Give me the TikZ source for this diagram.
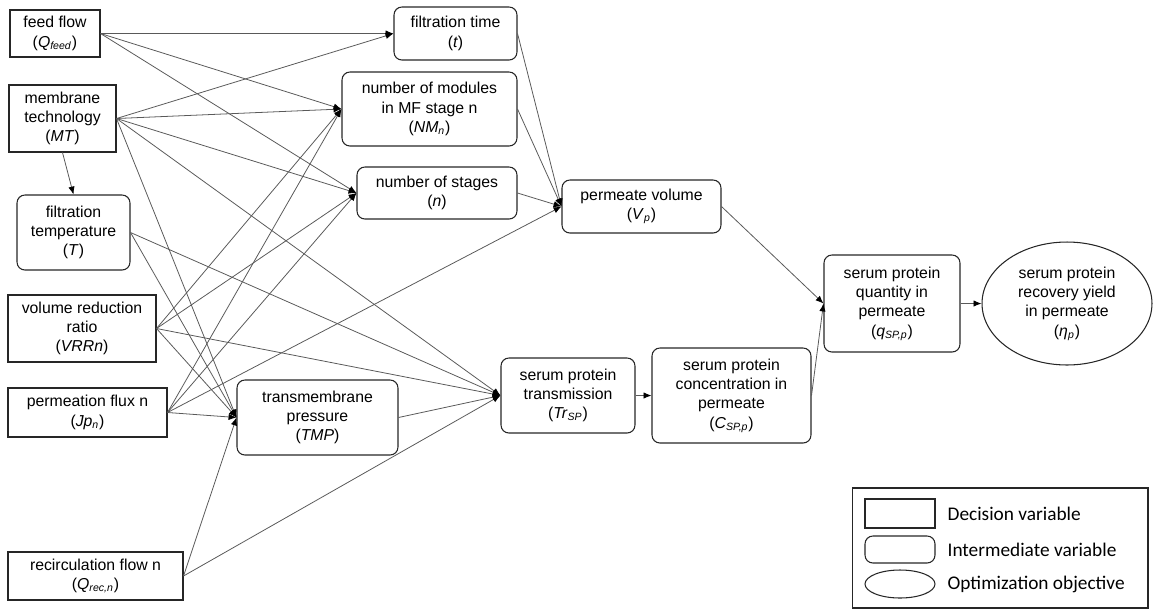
\documentclass[tikz,border=0pt]{standalone}
\usepackage{fontspec}
\setmainfont{Liberation Sans}
\newfontfamily\legendfont{Carlito}
\usepackage{tikz}
\usetikzlibrary{positioning,arrows.meta,shapes.geometric}

\newcommand{\vsub}[2]{\textit{#1}\textsubscript{\textit{#2}}}

\begin{document}
\begin{tikzpicture}[x=0.02cm, y=-0.02cm,
  decbox/.style={draw=black!85, line width=0.6pt, align=center, inner sep=2pt, font=\fontsize{9}{11}\selectfont},
  intbox/.style={decbox, rounded corners=4.5pt},
  objell/.style={decbox, ellipse, inner sep=0pt},
  arr/.style={-{Latex[length=4.5pt, width=3.6pt, color=black]}, draw=black!65, line width=0.45pt},
  node distance=2mm]
\useasboundingbox (0,0) rectangle (1154,610);

% decision variables
\node[decbox, minimum width=1.8cm, minimum height=0.94cm] (feed) at (55,33.5) {feed flow\\(\vsub{Q}{feed})};
\node[decbox, minimum width=2.14cm, minimum height=1.34cm] (mt) at (62.5,118.5) {membrane\\technology\\(\textit{MT})};
\node[decbox, minimum width=2.96cm, minimum height=1.34cm] (vrr) at (82,328.5) {volume reduction\\ratio\\(\textit{VRRn})};
\node[decbox, minimum width=3.18cm, minimum height=0.98cm] (jp) at (87.5,412.5) {permeation flux n\\(\vsub{Jp}{n})};
\node[decbox, minimum width=3.5cm, minimum height=0.96cm] (recirc) at (95.5,576) {recirculation flow n\\(\vsub{Q}{rec,n})};

% intermediate variables
\node[intbox, minimum width=2.26cm, minimum height=1.5cm] (temp) at (73.5,232.5) {filtration\\temperature\\(\textit{T})};
\node[intbox, minimum width=2.46cm, minimum height=1.06cm] (time) at (455.5,33.5) {filtration time\\(\textit{t})};
\node[intbox, minimum width=3.5cm, minimum height=1.48cm] (modules) at (429.5,109) {number of modules\\in MF stage n\\(\vsub{NM}{n})};
\node[intbox, minimum width=3.2cm, minimum height=1.04cm] (stages) at (437,193) {number of stages\\(\textit{n})};
\node[intbox, minimum width=3.18cm, minimum height=1.06cm] (volume) at (641.5,206.5) {permeate volume\\(\vsub{V}{p})};
\node[intbox, minimum width=3.22cm, minimum height=1.5cm] (tmp) at (317.5,417.5) {transmembrane\\pressure\\(\textit{TMP})};
\node[intbox, minimum width=2.68cm, minimum height=1.5cm] (trsp) at (568,395.5) {serum protein\\transmission\\(\vsub{Tr}{SP})};
\node[intbox, minimum width=3.18cm, minimum height=1.9cm] (conc) at (731.5,395.5) {serum protein\\concentration in\\permeate\\(\vsub{C}{SP,p})};
\node[intbox, minimum width=2.72cm, minimum height=1.94cm] (qty) at (892,303.5) {serum protein\\quantity in\\permeate\\(\vsub{q}{SP,p})};

% objective
\node[objell, minimum width=3.4cm, minimum height=2.46cm] (yield) at (1067,303.5) {serum protein\\recovery yield\\in permeate\\(\vsub{η}{p})};

% influences
\draw[arr] (feed.east) -- (time.west);
\draw[arr] (feed.east) -- (modules.west);
\draw[arr] (feed.east) -- (stages.west);
\draw[arr] (mt.east) -- (time.west);
\draw[arr] (mt.east) -- (modules.west);
\draw[arr] (mt.east) -- (stages.west);
\draw[arr] (mt.east) -- (tmp.west);
\draw[arr] (mt.east) -- (trsp.west);
\draw[arr] (mt.south) -- (temp.north);
\draw[arr] (temp.east) -- (tmp.west);
\draw[arr] (temp.east) -- (trsp.west);
\draw[arr] (vrr.east) -- (modules.west);
\draw[arr] (vrr.east) -- (stages.west);
\draw[arr] (vrr.east) -- (tmp.west);
\draw[arr] (vrr.east) -- (trsp.west);
\draw[arr] (jp.east) -- (modules.west);
\draw[arr] (jp.east) -- (stages.west);
\draw[arr] (jp.east) -- (volume.west);
\draw[arr] (jp.east) -- (tmp.west);
\draw[arr] (recirc.east) -- (tmp.west);
\draw[arr] (recirc.east) -- (trsp.west);
\draw[arr] (time.east) -- (volume.west);
\draw[arr] (modules.east) -- (volume.west);
\draw[arr] (stages.east) -- (volume.west);
\draw[arr] (tmp.east) -- (trsp.west);
\draw[arr] (trsp.east) -- (conc.west);
\draw[arr] (volume.east) -- (qty.west);
\draw[arr] (conc.east) -- (qty.west);
\draw[arr] (qty.east) -- (yield.west);

% legend
\node[draw=black!85, line width=0.6pt, minimum width=5.92cm, minimum height=2.4cm] (legend) at (1000,548) {};
\node[decbox, minimum width=1.4cm, minimum height=0.58cm] (lgdec) at (900,513.5) {};
\node[intbox, minimum width=1.4cm, minimum height=0.54cm] (lgint) at (900,549.5) {};
\node[objell, minimum width=1.4cm, minimum height=0.56cm] (lgobj) at (900,584) {};
\node[right=of lgdec, inner sep=1pt, font=\legendfont\fontsize{11}{13}\selectfont] {Decision variable};
\node[right=of lgint, inner sep=1pt, font=\legendfont\fontsize{11}{13}\selectfont] {Intermediate variable};
\node[right=of lgobj, inner sep=1pt, font=\legendfont\fontsize{11}{13}\selectfont] {Optimization objective};
\end{tikzpicture}
\end{document}
